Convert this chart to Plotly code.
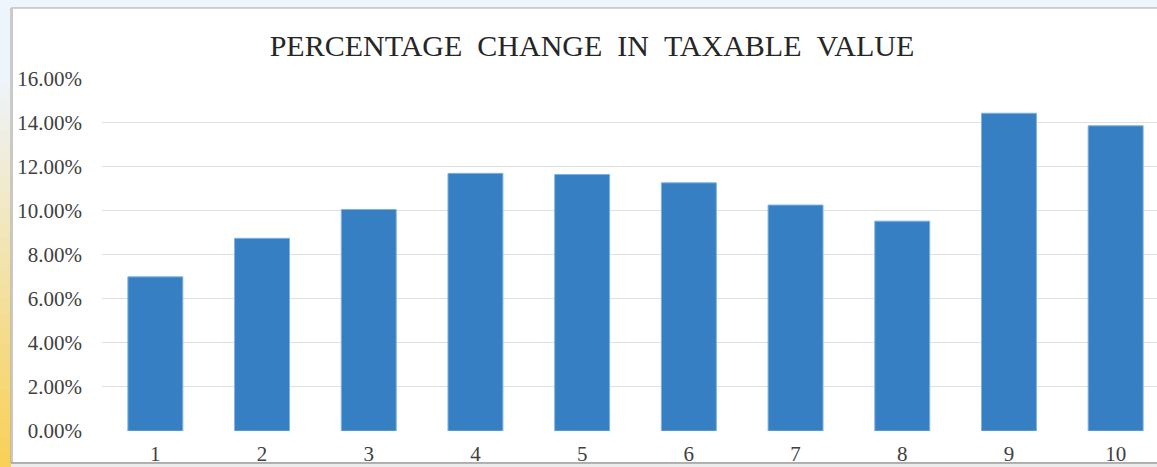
import plotly.graph_objects as go

categories = [1, 2, 3, 4, 5, 6, 7, 8, 9, 10]
values = [7.00, 8.75, 10.06, 11.70, 11.65, 11.27, 10.26, 9.53, 14.43, 13.86]
y_ticks = [0, 2, 4, 6, 8, 10, 12, 14, 16]
y_tick_labels = ["0.00%", "2.00%", "4.00%", "6.00%", "8.00%", "10.00%", "12.00%", "14.00%", "16.00%"]
title_text = "PERCENTAGE\u00a0\u00a0CHANGE\u00a0\u00a0IN\u00a0\u00a0TAXABLE\u00a0\u00a0VALUE"

W, H = 1157, 467
L, R, T, B = 102, 0, 78, 36
pw, ph = W - L - R, H - T - B


def px(x):
    return (x - L) / pw


def py(y):
    return (H - B - y) / ph


fig = go.Figure()
fig.add_trace(go.Bar(
    x=categories, y=values, width=0.515,
    marker=dict(color="#367fc2", line=dict(color="#7fb3e3", width=1)),
))

shapes = []
# left decorative gradient strip (light blue -> yellow)
n = 30
top_c = (238, 244, 251)
bot_c = (249, 209, 88)
y0s, y1s = 8, H
for i in range(n):
    t = i / (n - 1)
    tt = max(0.0, (t - 0.15) / 0.85)
    c = tuple(int(top_c[k] + (bot_c[k] - top_c[k]) * tt) for k in range(3))
    ya = y0s + (y1s - y0s) * i / n
    yb = y0s + (y1s - y0s) * (i + 1) / n + 1
    shapes.append(dict(type="rect", xref="paper", yref="paper", layer="below",
                       x0=px(-2), x1=px(11), y0=py(yb), y1=py(ya),
                       fillcolor="rgb(%d,%d,%d)" % c, line=dict(width=0)))
# white chart frame
shapes.append(dict(type="rect", xref="paper", yref="paper", layer="below",
                   x0=px(11), x1=px(1170), y0=py(463), y1=py(8),
                   fillcolor="white", line=dict(color="#a6a6a6", width=1)))
shapes.append(dict(type="line", xref="paper", yref="paper", layer="below",
                   x0=px(12), x1=px(12), y0=py(463), y1=py(8),
                   line=dict(color="#c8c8c8", width=2)))
# bottom shadow edge of the frame
shapes.append(dict(type="rect", xref="paper", yref="paper", layer="below",
                   x0=px(11), x1=px(1170), y0=py(470), y1=py(463),
                   fillcolor="#ececec", line=dict(width=0)))
shapes.append(dict(type="line", xref="paper", yref="paper", layer="below",
                   x0=px(11), x1=px(1170), y0=py(463), y1=py(463),
                   line=dict(color="#a0a0a0", width=1.5)))

fig.update_layout(
    width=W, height=H,
    margin=dict(l=L, r=R, t=T, b=B, pad=0, autoexpand=False),
    paper_bgcolor="#eef5fc",
    plot_bgcolor="rgba(0,0,0,0)",
    showlegend=False,
    shapes=shapes,
    title=dict(text=title_text, x=592 / W, xanchor="center", xref="container",
               y=1 - 45 / H, yanchor="middle",
               font=dict(family="Liberation Serif", size=30, color="#262626")),
    xaxis=dict(range=[0.5, 10.5 - 12 / 106.7], tickvals=categories,
               ticktext=[str(c) for c in categories], automargin=False,
               showgrid=False, zeroline=False, showline=False, ticks="",
               ticklabelstandoff=8,
               tickfont=dict(family="Liberation Serif", size=21, color="#404040")),
    yaxis=dict(range=[0, 16.03], tickvals=y_ticks, ticktext=y_tick_labels,
               automargin=False,
               showgrid=True, gridcolor="#e0e0e0", gridwidth=1,
               zeroline=False, showline=False, ticks="",
               ticklabelstandoff=19,
               tickfont=dict(family="Liberation Serif", size=21, color="#404040")),
    bargap=0.4,
)

fig.write_html("out.html")
